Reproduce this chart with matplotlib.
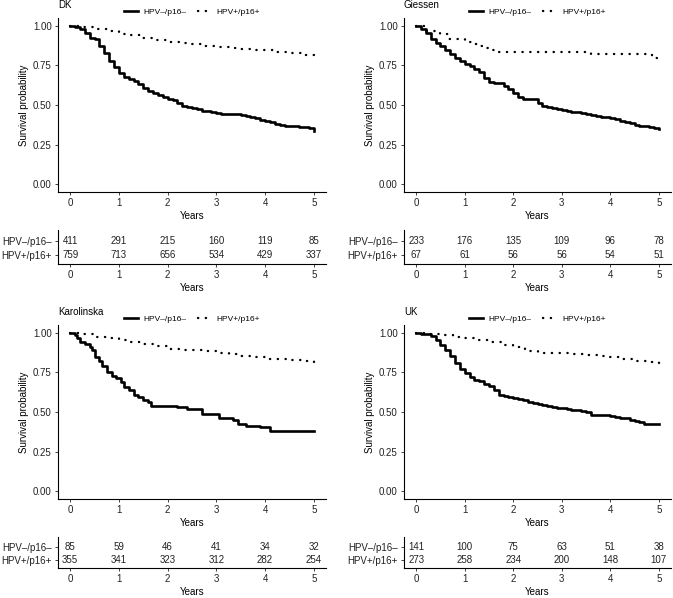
import matplotlib.pyplot as plt

plt.rcParams['font.family'] = ['Liberation Sans', 'DejaVu Sans']

# Kaplan-Meier curves (time in years, survival probability)
t_fine = [0.0, 0.1, 0.2, 0.3, 0.4, 0.5, 0.6, 0.7, 0.8, 0.9, 1.0, 1.1, 1.2, 1.3, 1.4, 1.5, 1.6,
          1.7, 1.8, 1.9, 2.0, 2.1, 2.2, 2.3, 2.4, 2.5, 2.6, 2.7, 2.8, 2.9, 3.0, 3.1, 3.2, 3.3,
          3.4, 3.5, 3.6, 3.7, 3.8, 3.9, 4.0, 4.1, 4.2, 4.3, 4.4, 4.5, 4.6, 4.7, 4.8, 4.9, 5.0]
t_quarter = [0.0, 0.25, 0.5, 0.75, 1.0, 1.25, 1.5, 1.75, 2.0, 2.25, 2.5, 2.75, 3.0, 3.25, 3.5,
             3.75, 4.0, 4.25, 4.5, 4.75, 5.0]

dk_s_neg = [1.0, 0.99, 0.98, 0.955, 0.925, 0.915, 0.875, 0.83, 0.78, 0.74, 0.705, 0.68, 0.665,
            0.65, 0.63, 0.61, 0.59, 0.578, 0.562, 0.552, 0.54, 0.53, 0.515, 0.493, 0.485, 0.478,
            0.472, 0.465, 0.46, 0.457, 0.452, 0.446, 0.442, 0.44, 0.44, 0.438, 0.433, 0.425,
            0.416, 0.408, 0.40, 0.39, 0.383, 0.374, 0.37, 0.368, 0.366, 0.362, 0.36, 0.355, 0.335]
dk_s_pos = [1.0, 0.99, 0.98, 0.965, 0.952, 0.94, 0.925, 0.912, 0.90, 0.892, 0.885, 0.876, 0.868,
            0.862, 0.856, 0.85, 0.845, 0.838, 0.83, 0.816, 0.80]

gi_s_neg = [1.0, 0.98, 0.955, 0.92, 0.895, 0.87, 0.85, 0.82, 0.80, 0.78, 0.757, 0.745, 0.73, 0.71,
            0.67, 0.647, 0.64, 0.636, 0.62, 0.60, 0.573, 0.55, 0.54, 0.535, 0.535, 0.51, 0.495,
            0.485, 0.478, 0.473, 0.467, 0.462, 0.457, 0.455, 0.45, 0.44, 0.435, 0.43, 0.425,
            0.422, 0.42, 0.41, 0.40, 0.393, 0.387, 0.375, 0.366, 0.365, 0.36, 0.355, 0.35]
gi_t_pos = [0, 0.2, 0.5, 0.65, 1.0, 1.12, 1.29, 1.43, 1.57, 1.67, 3.6, 4.85, 5.0]
gi_s_pos = [1.0, 0.965, 0.95, 0.92, 0.90, 0.884, 0.87, 0.86, 0.848, 0.833, 0.82, 0.80, 0.80]

ka_t_neg = [0, 0.1, 0.15, 0.2, 0.3, 0.4, 0.45, 0.5, 0.6, 0.65, 0.75, 0.85, 0.95, 1.05, 1.1, 1.2,
            1.3, 1.4, 1.5, 1.6, 1.65, 2.2, 2.4, 2.7, 3.05, 3.35, 3.45, 3.6, 3.9, 4.1, 5.0]
ka_s_neg = [1.0, 0.985, 0.97, 0.943, 0.93, 0.91, 0.89, 0.85, 0.82, 0.79, 0.75, 0.73, 0.717, 0.69,
            0.66, 0.64, 0.61, 0.595, 0.578, 0.563, 0.54, 0.53, 0.52, 0.49, 0.464, 0.447, 0.426,
            0.41, 0.405, 0.378, 0.378]
ka_s_pos = [1.0, 0.99, 0.975, 0.965, 0.955, 0.945, 0.93, 0.915, 0.90, 0.895, 0.89, 0.883, 0.875,
            0.865, 0.852, 0.845, 0.838, 0.832, 0.827, 0.82, 0.812]

uk_s_neg = [1.0, 0.995, 0.993, 0.98, 0.955, 0.925, 0.89, 0.855, 0.81, 0.775, 0.745, 0.72, 0.705,
            0.695, 0.68, 0.665, 0.64, 0.605, 0.60, 0.595, 0.59, 0.58, 0.575, 0.563, 0.555, 0.553,
            0.545, 0.536, 0.53, 0.527, 0.525, 0.52, 0.515, 0.512, 0.505, 0.50, 0.48, 0.48, 0.48,
            0.48, 0.475, 0.468, 0.46, 0.46, 0.45, 0.443, 0.435, 0.425, 0.422, 0.422, 0.422]
uk_s_pos = [1.0, 0.995, 0.985, 0.975, 0.965, 0.955, 0.94, 0.925, 0.91, 0.885, 0.875, 0.872, 0.87,
            0.868, 0.86, 0.852, 0.845, 0.835, 0.825, 0.815, 0.812]

# numbers at risk
years = [0, 1, 2, 3, 4, 5]
dk_risk_neg = [411, 291, 215, 160, 119, 85]
dk_risk_pos = [759, 713, 656, 534, 429, 337]
gi_risk_neg = [233, 176, 135, 109, 96, 78]
gi_risk_pos = [67, 61, 56, 56, 54, 51]
ka_risk_neg = [85, 59, 46, 41, 34, 32]
ka_risk_pos = [355, 341, 323, 312, 282, 254]
uk_risk_neg = [141, 100, 75, 63, 51, 38]
uk_risk_pos = [273, 258, 234, 200, 148, 107]

lab_neg = 'HPV\u2013/p16\u2013'
lab_pos = 'HPV+/p16+'

panels = [
    ('DK', t_fine, dk_s_neg, t_quarter, dk_s_pos, dk_risk_neg, dk_risk_pos),
    ('Giessen', t_fine, gi_s_neg, gi_t_pos, gi_s_pos, gi_risk_neg, gi_risk_pos),
    ('Karolinska', ka_t_neg, ka_s_neg, t_quarter, ka_s_pos, ka_risk_neg, ka_risk_pos),
    ('UK', t_fine, uk_s_neg, t_quarter, uk_s_pos, uk_risk_neg, uk_risk_pos),
]

W, H = 673, 598
fig = plt.figure(figsize=(W / 100, H / 100), dpi=100)

# pixel boxes: (left, right) per column, (top, bottom) for main plot and table per row
cols = [(58, 326), (404, 671)]
rows = [((18, 192), (230, 264)), ((325, 499), (537, 568))]
title_y = [0, 307]

def rect(x0, x1, y0, y1):
    return [x0 / W, 1 - y1 / H, (x1 - x0) / W, (y1 - y0) / H]

def style(ax):
    for s in ['top', 'right']:
        ax.spines[s].set_visible(False)
    for s in ['left', 'bottom']:
        ax.spines[s].set_linewidth(0.8)
    ax.tick_params(length=2.5, width=0.6, labelsize=7, colors='#222222', pad=2)

for i, (name, tn, sn, tp, sp, rn, rp) in enumerate(panels):
    r, c = divmod(i, 2)
    x0, x1 = cols[c]
    (m0, m1), (t0, t1) = rows[r]

    ax = fig.add_axes(rect(x0, x1, m0, m1))
    ax.step(tn, sn, where='post', color='black', lw=1.9, label=lab_neg)
    ax.step(tp, sp, where='post', color='black', lw=1.7, linestyle=(0, (0.1, 3.2)),
            dash_capstyle='round', label=lab_pos)
    ax.set_xlim(-0.25, 5.25)
    ax.set_ylim(-0.05, 1.05)
    ax.set_yticks([0, 0.25, 0.5, 0.75, 1.0])
    ax.set_yticklabels(['0.00', '0.25', '0.50', '0.75', '1.00'])
    ax.set_xticks(years)
    ax.set_xlabel('Years', fontsize=7, labelpad=2)
    ax.set_ylabel('Survival probability', fontsize=7, labelpad=3)
    style(ax)
    ax.legend(loc='center', bbox_to_anchor=(0.5, 1.035), ncol=2, frameon=False, fontsize=6,
              handlelength=1.7, handletextpad=0.6, columnspacing=1.4)
    fig.text(x0 / W, 1 - title_y[r] / H, name, fontsize=7, ha='left', va='top')

    tab = fig.add_axes(rect(x0, x1, t0, t1))
    tab.set_xlim(-0.25, 5.25)
    tab.set_ylim(0.36, 2.79)
    for x, a, b in zip(years, rn, rp):
        tab.text(x, 2, str(a), ha='center', va='center', fontsize=7, color='#222222')
        tab.text(x, 1, str(b), ha='center', va='center', fontsize=7, color='#222222')
    tab.set_yticks([2, 1])
    tab.set_yticklabels([lab_neg, lab_pos])
    tab.set_xticks(years)
    tab.set_xlabel('Years', fontsize=7, labelpad=2)
    style(tab)

fig.savefig('out.png', dpi=100)
